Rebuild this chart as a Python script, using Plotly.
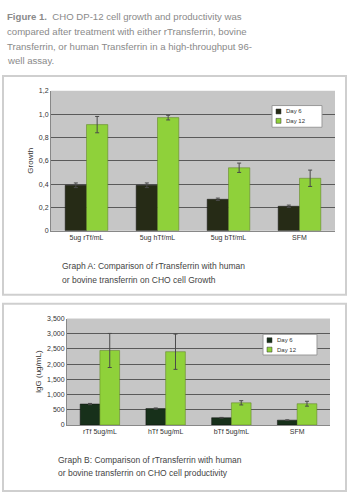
import plotly.graph_objects as go

W, H = 350, 500

# ---- data ----
cats_a = ["5ug rTf/mL", "5ug hTf/mL", "5ug bTf/mL", "SFM"]
day6_a = [0.39, 0.39, 0.27, 0.21]
day6_a_err = [0.02, 0.02, 0.01, 0.01]
day12_a = [0.91, 0.97, 0.54, 0.45]
day12_a_err = [0.07, 0.02, 0.04, 0.07]
ticks_a = [0, 0.2, 0.4, 0.6, 0.8, 1.0, 1.2]
ticklabels_a = ["0", "0,2", "0,4", "0,6", "0,8", "1,0", "1,2"]

cats_b = ["rTf 5ug/mL", "hTf 5ug/mL", "bTf 5ug/mL", "SFM"]
day6_b = [690, 540, 240, 160]
day6_b_err = [20, 20, 10, 10]
day12_b = [2450, 2410, 730, 700]
day12_b_err = [560, 580, 70, 80]
ticks_b = [0, 500, 1000, 1500, 2000, 2500, 3000, 3500]
ticklabels_b = ["0", "500", "1,000", "1,500", "2,000", "2,500", "3,000", "3,500"]

series_names = ["Day 6", "Day 12"]

DARK = "#262b16"
DARK_B = "#17301a"
GREEN = "#8fd13a"
FONT = "Liberation Sans"

def py(y):  # pixel -> paper y
    return 1 - y / H

def px(x):
    return x / W

fig = go.Figure()

err_style = dict(type="data", visible=True, color="#4a4a4a", thickness=1, width=2)

fig.add_trace(go.Bar(x=cats_a, y=day6_a, name=series_names[0], marker=dict(color=DARK, line=dict(color="#111", width=0.5)),
                     error_y=dict(array=day6_a_err, **err_style), xaxis="x", yaxis="y"))
fig.add_trace(go.Bar(x=cats_a, y=day12_a, name=series_names[1], marker=dict(color=GREEN, line=dict(color="#5a7a20", width=0.5)),
                     error_y=dict(array=day12_a_err, **err_style), xaxis="x", yaxis="y"))
fig.add_trace(go.Bar(x=cats_b, y=day6_b, name=series_names[0], marker=dict(color=DARK_B, line=dict(color="#111", width=0.5)),
                     error_y=dict(array=day6_b_err, **err_style), xaxis="x2", yaxis="y2"))
fig.add_trace(go.Bar(x=cats_b, y=day12_b, name=series_names[1], marker=dict(color=GREEN, line=dict(color="#5a7a20", width=0.5)),
                     error_y=dict(array=day12_b_err, **err_style), xaxis="x2", yaxis="y2"))

tickfont = dict(family=FONT, size=7, color="#333")
gridc = "#5a5a5a"

fig.update_layout(
    width=W, height=H, margin=dict(l=0, r=0, t=0, b=0),
    paper_bgcolor="white", plot_bgcolor="#c6c6c6",
    barmode="group", bargap=0.4, bargroupgap=0.0,
    font=dict(family=FONT, size=8, color="#333"),
    showlegend=False,
    xaxis=dict(domain=[px(51), px(335)], anchor="y", tickfont=tickfont, showline=True, linecolor="#888",
               ticks="", showgrid=False),
    yaxis=dict(domain=[py(230), py(88)], anchor="x", range=[0, 1.2], tickvals=ticks_a, ticktext=ticklabels_a,
               tickfont=tickfont, gridcolor=gridc, gridwidth=1, zeroline=False, showline=True, linecolor="#888",
               title=dict(text="Growth", font=dict(family=FONT, size=8, color="#333"), standoff=4)),
    xaxis2=dict(domain=[px(67), px(330)], anchor="y2", tickfont=tickfont, showline=True, linecolor="#888",
                ticks="", showgrid=False),
    yaxis2=dict(domain=[py(427), py(319)], anchor="x2", range=[0, 3500], tickvals=ticks_b, ticktext=ticklabels_b,
                tickfont=tickfont, gridcolor=gridc, gridwidth=1, zeroline=False, showline=True, linecolor="#888",
                title=dict(text="IgG (ug/mL)", font=dict(family=FONT, size=8, color="#333"), standoff=4)),
)

# panel boxes
fig.add_shape(type="rect", xref="paper", yref="paper", x0=px(3), x1=px(346), y0=py(295), y1=py(73),
              line=dict(color="#cfcfcf", width=2), layer="below")
fig.add_shape(type="rect", xref="paper", yref="paper", x0=px(3), x1=px(346), y0=py(494), y1=py(304),
              line=dict(color="#cfcfcf", width=2), layer="below")

# compact legends (drawn as keys with labels)
def legend_box(x0, y0, w, h, colors):
    fig.add_shape(type="rect", xref="paper", yref="paper", x0=px(x0), x1=px(x0 + w), y0=py(y0 + h), y1=py(y0),
                  fillcolor="white", line=dict(color="#999", width=1))
    for i, (name, c) in enumerate(zip(series_names, colors)):
        yc = y0 + 6 + i * 9.5
        fig.add_shape(type="rect", xref="paper", yref="paper", x0=px(x0 + 4), x1=px(x0 + 9),
                      y0=py(yc + 2.5), y1=py(yc - 2.5), fillcolor=c, line=dict(color="#333", width=0.5))
        fig.add_annotation(text=name, xref="paper", yref="paper", x=px(x0 + 12), y=py(yc), xanchor="left",
                           yanchor="middle", showarrow=False, font=dict(family=FONT, size=6, color="#333"))

legend_box(272, 103, 50, 22, [DARK, GREEN])
legend_box(263, 335, 54, 21, [DARK_B, GREEN])

# figure caption text
cap_lines = [
    "<b>Figure 1.</b>  CHO DP-12 cell growth and productivity was",
    "compared after treatment with either rTransferrin, bovine",
    "Transferrin, or human Transferrin in a high-throughput 96-",
    "well assay.",
]
for i, t in enumerate(cap_lines):
    fig.add_annotation(text=t, xref="paper", yref="paper", x=px(5), y=py(13 + i * 14.8), xanchor="left",
                       yanchor="middle", showarrow=False, font=dict(family=FONT, size=9.6, color="#8a8a8a"))

graph_caps = [
    (["Graph A: Comparison of rTransferrin with human", "or bovine transferrin on CHO cell Growth"], 60, 266),
    (["Graph B: Comparison of rTransferrin with human", "or bovine transferrin on CHO cell productivity"], 56, 462),
]
for lines, x0, y0 in graph_caps:
    for i, t in enumerate(lines):
        fig.add_annotation(text=t, xref="paper", yref="paper", x=px(x0), y=py(y0 + i * 14), xanchor="left",
                           yanchor="middle", showarrow=False, font=dict(family=FONT, size=8.5, color="#444"))

fig.write_html("out.html")
